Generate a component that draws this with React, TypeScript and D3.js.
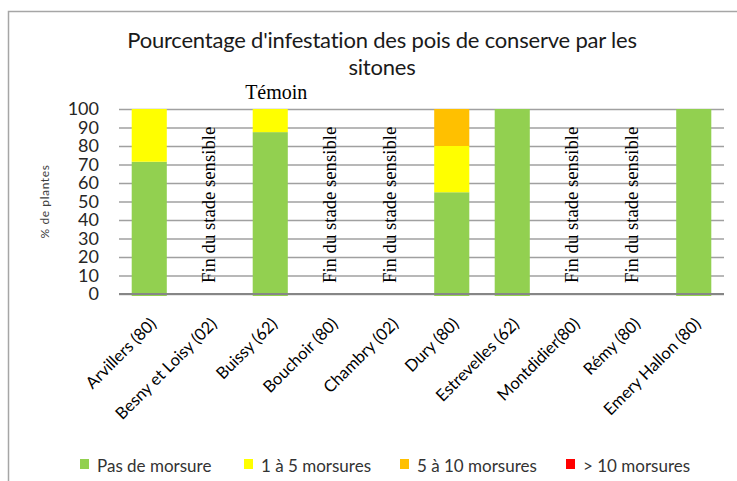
import React, { useEffect, useRef } from 'react';
import * as d3 from 'd3';

const categories = [
  'Arvillers (80)',
  'Besny et Loisy (02)',
  'Buissy (62)',
  'Bouchoir (80)',
  'Chambry (02)',
  'Dury (80)',
  'Estrevelles (62)',
  'Montdidier(80)',
  'Rémy (80)',
  'Emery Hallon (80)',
];

// null = "Fin du stade sensible" (no count)
const pasDeMorsure = [71.5, null, 87.5, null, null, 55, 100, null, null, 100];
const unACinq = [28.5, null, 12.5, null, null, 25, 0, null, null, 0];
const cinqADix = [0, null, 0, null, null, 20, 0, null, null, 0];
const plusDeDix = [0, null, 0, null, null, 0, 0, null, null, 0];

const seriesNames = ['Pas de morsure', '1 à 5 morsures', '5 à 10 morsures', '> 10 morsures'];
const seriesColors = ['#92D050', '#FFFF00', '#FFC000', '#FF0000'];
const yTicks = [0, 10, 20, 30, 40, 50, 60, 70, 80, 90, 100];
const titleLines = ["Pourcentage d'infestation des pois de conserve par les", 'sitones'];
const noDataLabel = 'Fin du stade sensible';
const temoinCategory = 'Buissy (62)';

const App: React.FC = () => {
  const svgRef = useRef<SVGSVGElement>(null);
  const width = 737;
  const height = 481;

  useEffect(() => {
    if (!svgRef.current) return;
    const svg = d3.select(svgRef.current);
    svg.selectAll('*').remove();

    const sans = 'Lato, "Open Sans", sans-serif';
    const serif = '"Liberation Serif", "DejaVu Serif", serif';

    svg.append('rect').attr('width', width).attr('height', height).attr('fill', '#fff');

    // chart frame (runs past the right / bottom of the picture)
    svg.append('rect')
      .attr('x', 8.5).attr('y', 11.5)
      .attr('width', 760).attr('height', 500)
      .attr('fill', 'none')
      .attr('stroke', '#a6a6a6')
      .attr('stroke-width', 1.5);

    const margin = { left: 119, right: 13, top: 109, bottom: 187 };
    const x = d3.scaleBand<string>()
      .domain(categories)
      .range([margin.left, width - margin.right])
      .paddingInner(0.42)
      .paddingOuter(0.21);
    const y = d3.scaleLinear().domain([0, 100]).range([height - margin.bottom, margin.top]);

    // title
    const title = svg.append('text')
      .attr('text-anchor', 'middle')
      .attr('font-family', sans)
      .attr('font-size', 22)
      .attr('fill', '#1a1a1a')
      .attr('letter-spacing', -0.2);
    titleLines.forEach((t, i) => {
      title.append('tspan').attr('x', 382).attr('y', 48 + i * 27).text(t);
    });

    // gridlines
    svg.append('g')
      .attr('transform', `translate(${margin.left},0)`)
      .call(d3.axisLeft(y).tickValues(yTicks).tickSize(-(width - margin.right - margin.left)).tickFormat(() => ''))
      .call(g => g.select('.domain').remove())
      .call(g => g.selectAll('line').attr('stroke', '#a0a0a0').attr('stroke-width', 1.5));

    // y tick labels
    svg.append('g')
      .selectAll('text')
      .data(yTicks)
      .join('text')
      .attr('x', 99)
      .attr('y', d => y(d))
      .attr('dy', '0.36em')
      .attr('text-anchor', 'end')
      .attr('font-family', sans)
      .attr('font-size', 18)
      .attr('fill', '#262626')
      .text(d => d);

    // y axis title
    svg.append('text')
      .attr('transform', `translate(49,${(y(0) + y(100)) / 2}) rotate(-90)`)
      .attr('text-anchor', 'middle')
      .attr('font-family', sans)
      .attr('font-size', 12)
      .attr('letter-spacing', 0.6)
      .attr('fill', '#404040')
      .text('% de plantes');

    // stacked bars
    const rows = categories.map((c, i) => ({
      cat: c,
      s0: pasDeMorsure[i] ?? 0,
      s1: unACinq[i] ?? 0,
      s2: cinqADix[i] ?? 0,
      s3: plusDeDix[i] ?? 0,
    }));
    const stack = d3.stack<any>().keys(['s0', 's1', 's2', 's3'])(rows);
    stack.forEach((layer, li) => {
      svg.append('g')
        .attr('fill', seriesColors[li])
        .selectAll('rect')
        .data(layer.filter(d => d[1] - d[0] > 0))
        .join('rect')
        .attr('x', d => x(d.data.cat)!)
        .attr('width', x.bandwidth())
        .attr('y', d => y(d[1]))
        .attr('height', d => y(d[0]) - y(d[1]) + (d[0] === 0 ? 2 : 0));
    });

    // zero axis line
    svg.append('line')
      .attr('x1', margin.left).attr('x2', width - margin.right)
      .attr('y1', y(0)).attr('y2', y(0))
      .attr('stroke', '#868686')
      .attr('stroke-width', 2);

    // "Fin du stade sensible" labels
    const noData = categories.filter((_, i) => pasDeMorsure[i] === null);
    svg.append('g')
      .selectAll('text')
      .data(noData)
      .join('text')
      .attr('transform', d => `translate(${x(d)! + x.bandwidth() / 2 + 5},${y(0) - 11}) rotate(-90)`)
      .attr('font-family', serif)
      .attr('font-size', 18.7)
      .attr('fill', '#000')
      .text(noDataLabel);

    // Témoin
    svg.append('text')
      .attr('x', x(temoinCategory)! + x.bandwidth() / 2 + 6)
      .attr('y', 99)
      .attr('text-anchor', 'middle')
      .attr('font-family', serif)
      .attr('font-size', 20)
      .attr('fill', '#000')
      .text('Témoin');

    // category labels
    svg.append('g')
      .selectAll('text')
      .data(categories)
      .join('text')
      .attr('transform', d => `translate(${x(d)! + x.bandwidth() / 2 + 8},${y(0) + 31}) rotate(-45)`)
      .attr('text-anchor', 'end')
      .attr('font-family', sans)
      .attr('font-size', 16.5)
      .attr('fill', '#000')
      .text(d => d);

    // legend
    const legendSquareX = [80, 244, 400, 566];
    const legend = svg.append('g');
    seriesNames.forEach((name, i) => {
      legend.append('rect')
        .attr('x', legendSquareX[i]).attr('y', 459)
        .attr('width', 9).attr('height', 10)
        .attr('fill', seriesColors[i]);
      legend.append('text')
        .attr('x', legendSquareX[i] + 17)
        .attr('y', 471.5)
        .attr('font-family', sans)
        .attr('font-size', 17)
        .attr('fill', '#333')
        .text(name);
    });
  }, []);

  return (
    <svg
      ref={svgRef}
      width={width}
      height={height}
      style={{ position: 'absolute', left: 0, top: 0, display: 'block' }}
    />
  );
};

export default App;
